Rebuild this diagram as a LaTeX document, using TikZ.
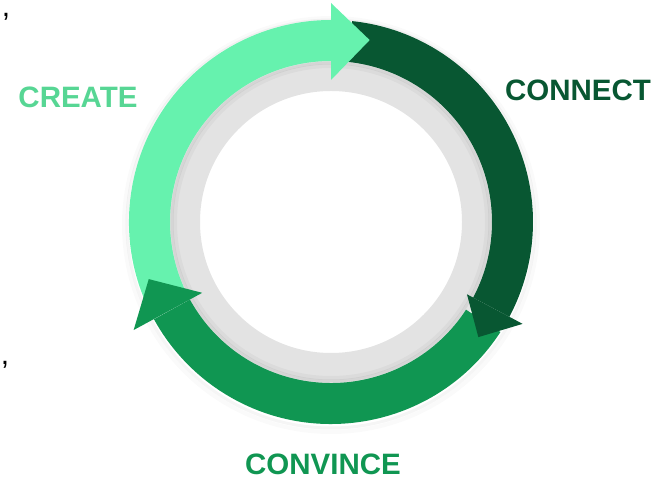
\documentclass[tikz,border=0pt]{standalone}
\usepackage{fontspec}
\setmainfont{Liberation Sans}
\definecolor{createfill}{RGB}{102,242,174}
\definecolor{createtext}{RGB}{87,214,148}
\definecolor{connectgreen}{RGB}{8,87,50}
\definecolor{convincegreen}{RGB}{16,150,82}
\definecolor{ringgray}{RGB}{227,227,227}

\begin{document}
\begin{tikzpicture}[x=1pt, y=1pt, every node/.style={inner sep=0pt, font=\fontsize{29.5}{31}\selectfont\bfseries}]

  \useasboundingbox (0,0) rectangle (654,479);

  \begin{scope}[shift={(331,257)}]

    % gray ring
    \fill[ringgray, even odd rule] (0,0) circle (165) (0,0) circle (131);

    % soft shadows round the colored ring
    \draw[black, opacity=0.04, line width=3] (0,-2) circle (204);
    \draw[black, opacity=0.02, line width=4] (0,-3) circle (207);
    \draw[black, opacity=0.06, line width=3] (0,0) circle (159);
    \draw[black, opacity=0.03, line width=4] (0,0) circle (156);

    % Create arc
    \fill[createfill] (207:202) arc (207:90:202) -- (90:161) arc (90:207:161) -- cycle;
    % Connect arc
    \fill[connectgreen] (84:202) arc (84:-28:202) -- (-28:161) arc (-28:84:161) -- cycle;
    % Convince arc
    \fill[convincegreen] (-33:202) arc (-33:-151.2:202) -- (-151.2:161) arc (-151.2:-33:161) -- cycle;

    % arrow heads
    \fill[createfill] (90:219) -- (78:186) -- (90:142) -- cycle;
    \fill[connectgreen] (-28:217) -- (-38:187) -- (-28:154) -- cycle;
    \fill[convincegreen] (208.7:225) -- (197.4:191) -- (208.8:147) -- cycle;

  \end{scope}

  % labels
  \node[createtext] (create) at (78,382) {CREATE};
  \node[connectgreen] (connect) at (578,389) {CONNECT};
  \node[convincegreen] (convince) at (323,15) {CONVINCE};

  % small marks at the left edge
  \node[font=\fontsize{30}{30}\selectfont] (marktop) at (6,462) {,};
  \node[font=\fontsize{30}{30}\selectfont] (markbottom) at (5,114) {,};

\end{tikzpicture}
\end{document}
